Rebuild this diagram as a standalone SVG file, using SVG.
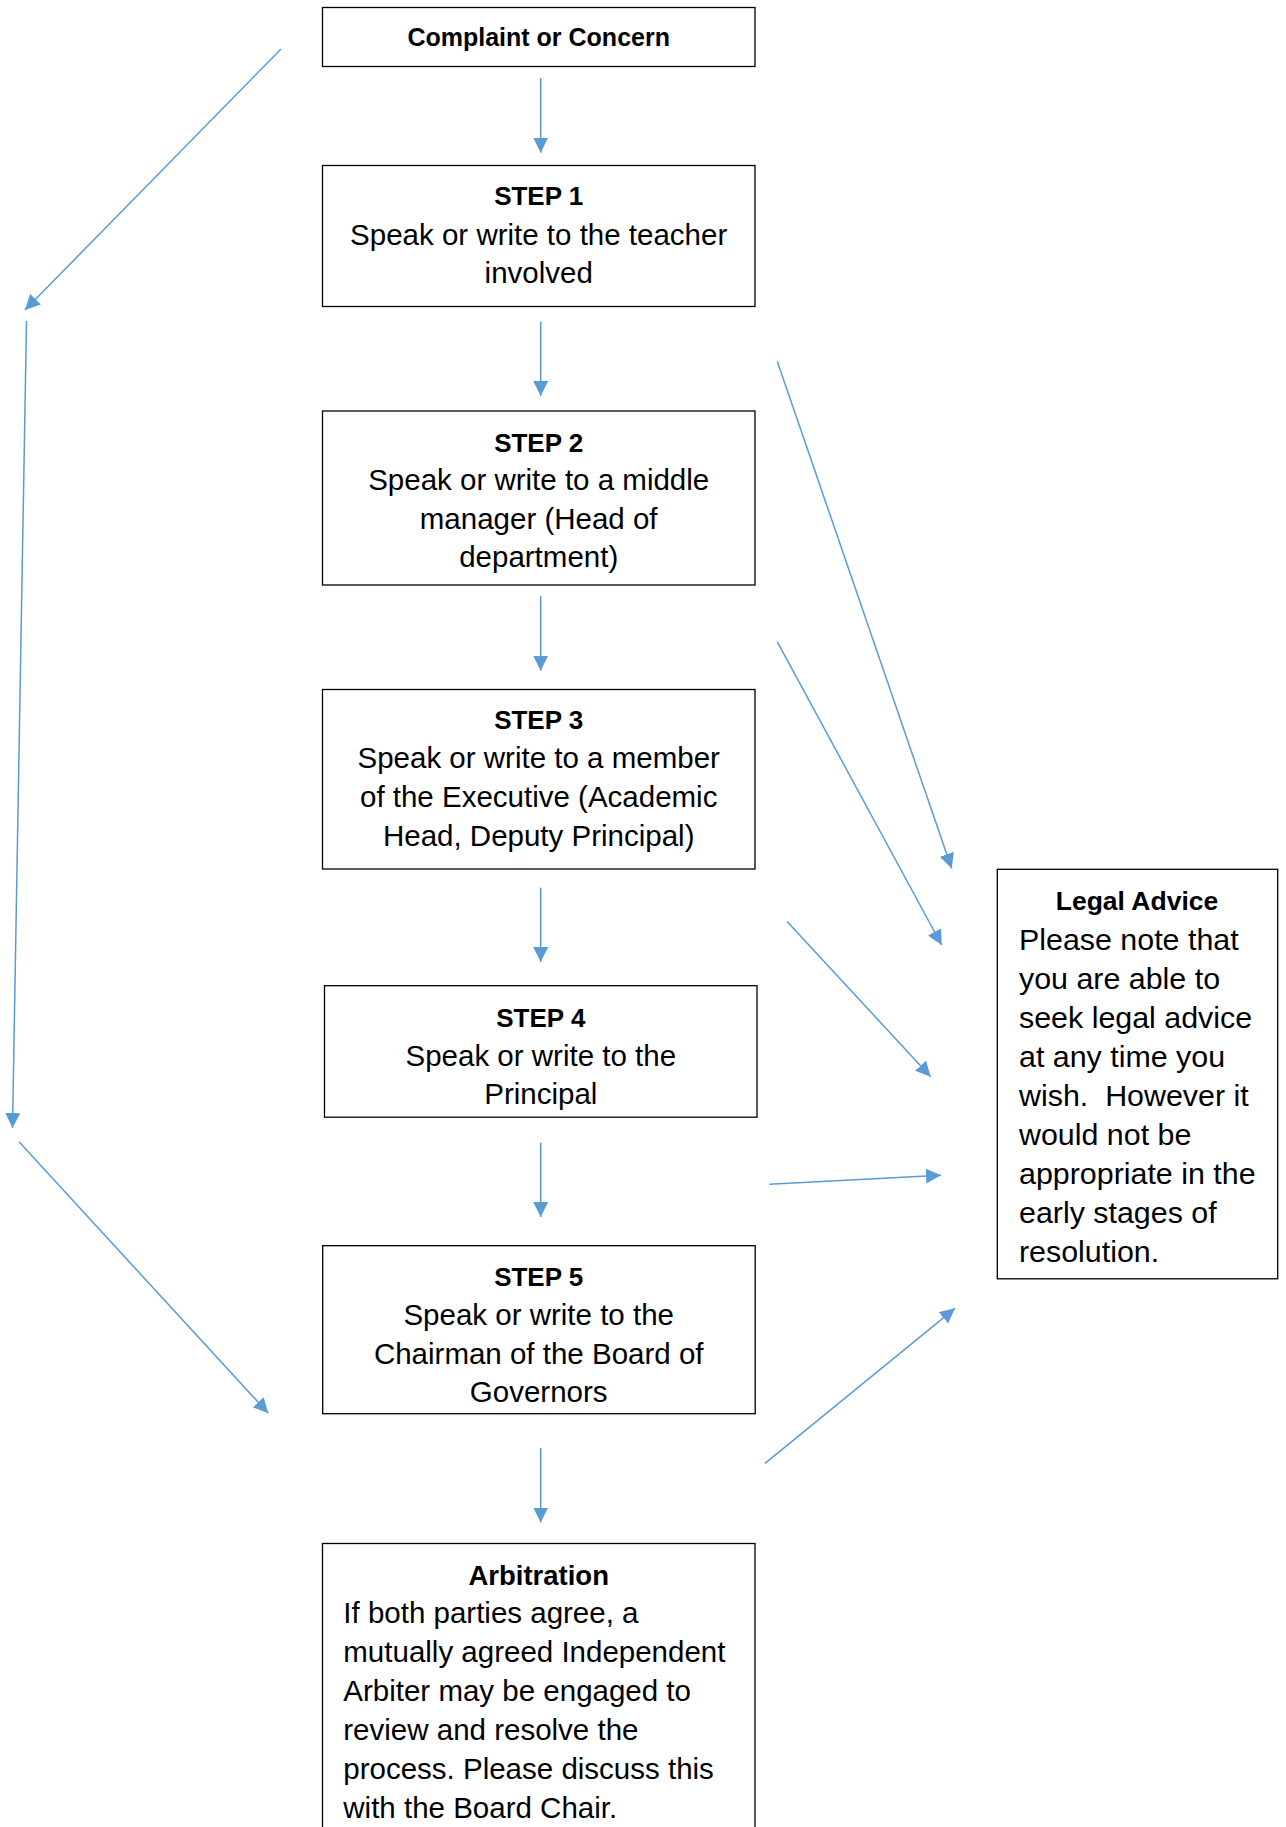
<svg xmlns="http://www.w3.org/2000/svg" width="1286" height="1827" viewBox="0 0 1286 1827">
<style>
  .box { fill: #ffffff; stroke: #000000; stroke-width: 1.3; }
  .t { font-family: "Liberation Sans", Arial, sans-serif; font-size: 29.5px; fill: #000000; }
  .c { text-anchor: middle; }
  .h { font-family: "Liberation Sans", Arial, sans-serif; font-weight: bold; font-size: 26px; fill: #000000; text-anchor: middle; }
  .lg { font-size: 30.4px; }
  .conn line { stroke: #5B9BD5; stroke-width: 1.5; fill: none; marker-end: url(#ah); }
</style>
<defs>
  <marker id="ah" markerUnits="userSpaceOnUse" markerWidth="16" markerHeight="16" refX="15" refY="7.5" orient="auto">
    <path d="M0,0 L15,7.5 L0,15 Z" fill="#5B9BD5"/>
  </marker>
  <clipPath id="clip4"><rect x="325" y="986" width="432" height="131"/></clipPath>
</defs>
<rect x="0" y="0" width="1286" height="1827" fill="#ffffff"/>

<g id="complaint">
  <rect class="box" x="322.5" y="7.5" width="432.5" height="59"/>
  <text class="h" x="538.7" y="45.7" style="font-size:25px">Complaint or Concern</text>
</g>

<g id="step1">
  <rect class="box" x="322.5" y="165.5" width="432.5" height="141"/>
  <text class="h" x="538.7" y="205">STEP 1</text>
  <text class="t c" x="538.7" y="244.5">Speak or write to the teacher</text>
  <text class="t c" x="538.7" y="283">involved</text>
</g>

<g id="step2">
  <rect class="box" x="322.5" y="411" width="432.5" height="174"/>
  <text class="h" x="538.7" y="451.7">STEP 2</text>
  <text class="t c" x="538.7" y="490">Speak or write to a middle</text>
  <text class="t c" x="538.7" y="529">manager (Head of</text>
  <text class="t c" x="538.7" y="567">department)</text>
</g>

<g id="step3">
  <rect class="box" x="322.5" y="689.5" width="432.5" height="179.5"/>
  <text class="h" x="538.7" y="729.3">STEP 3</text>
  <text class="t c" x="538.7" y="768.3">Speak or write to a member</text>
  <text class="t c" x="538.7" y="807.3">of the Executive (Academic</text>
  <text class="t c" x="538.7" y="846">Head, Deputy Principal)</text>
</g>

<g id="step4">
  <rect class="box" x="324.5" y="985.7" width="432.5" height="131.5"/>
  <g clip-path="url(#clip4)">
    <text class="h" x="540.8" y="1026.7">STEP 4</text>
    <text class="t c" x="540.8" y="1066">Speak or write to the</text>
    <text class="t c" x="540.8" y="1104">Principal</text>
  </g>
</g>

<g id="step5">
  <rect class="box" x="322.7" y="1245.7" width="432.5" height="168"/>
  <text class="h" x="538.7" y="1286">STEP 5</text>
  <text class="t c" x="538.7" y="1324.7">Speak or write to the</text>
  <text class="t c" x="538.7" y="1364">Chairman of the Board of</text>
  <text class="t c" x="538.7" y="1401.7">Governors</text>
</g>

<g id="arbitration">
  <rect class="box" x="322.5" y="1543.5" width="432.5" height="300"/>
  <text class="h" x="538.7" y="1585" style="font-size:27.5px">Arbitration</text>
  <text class="t" x="343.3" y="1623.3">If both parties agree, a</text>
  <text class="t" x="343.3" y="1662.2">mutually agreed Independent</text>
  <text class="t" x="343.3" y="1701.1">Arbiter may be engaged to</text>
  <text class="t" x="343.3" y="1740">review and resolve the</text>
  <text class="t" x="343.3" y="1778.9">process. Please discuss this</text>
  <text class="t" x="343.3" y="1817.8">with the Board Chair.</text>
</g>

<g id="legal">
  <rect class="box" x="997.3" y="869.3" width="280.4" height="409.5"/>
  <text class="h" x="1137" y="910" style="font-size:26.5px">Legal Advice</text>
  <text class="t lg" x="1019" y="949.5">Please note that</text>
  <text class="t lg" x="1019" y="988.5">you are able to</text>
  <text class="t lg" x="1019" y="1027.5">seek legal advice</text>
  <text class="t lg" x="1019" y="1066.5">at any time you</text>
  <text class="t lg" x="1019" y="1105.5">wish.&#160; However it</text>
  <text class="t lg" x="1019" y="1144.5">would not be</text>
  <text class="t lg" x="1019" y="1183.5">appropriate in the</text>
  <text class="t lg" x="1019" y="1222.5">early stages of</text>
  <text class="t lg" x="1019" y="1261.5">resolution.</text>
</g>

<g id="connectors" class="conn">
  <line x1="540.7" y1="78" x2="540.7" y2="152.7"/>
  <line x1="540.7" y1="321.5" x2="540.7" y2="396"/>
  <line x1="540.7" y1="596" x2="540.7" y2="670.7"/>
  <line x1="540.7" y1="887.6" x2="540.7" y2="962"/>
  <line x1="540.7" y1="1142.7" x2="540.7" y2="1217"/>
  <line x1="540.7" y1="1448" x2="540.7" y2="1522.5"/>
  <line x1="281" y1="49" x2="25" y2="310"/>
  <line x1="26.5" y1="321" x2="12.5" y2="1128"/>
  <line x1="19" y1="1141.7" x2="268.3" y2="1413.3"/>
  <line x1="777.3" y1="361.4" x2="951.7" y2="868.6"/>
  <line x1="777.3" y1="641.8" x2="941.7" y2="945"/>
  <line x1="787.3" y1="921.7" x2="930.7" y2="1076.7"/>
  <line x1="769.3" y1="1184.3" x2="941" y2="1175.3"/>
  <line x1="765" y1="1463.3" x2="955" y2="1308.3"/>
</g>
</svg>
